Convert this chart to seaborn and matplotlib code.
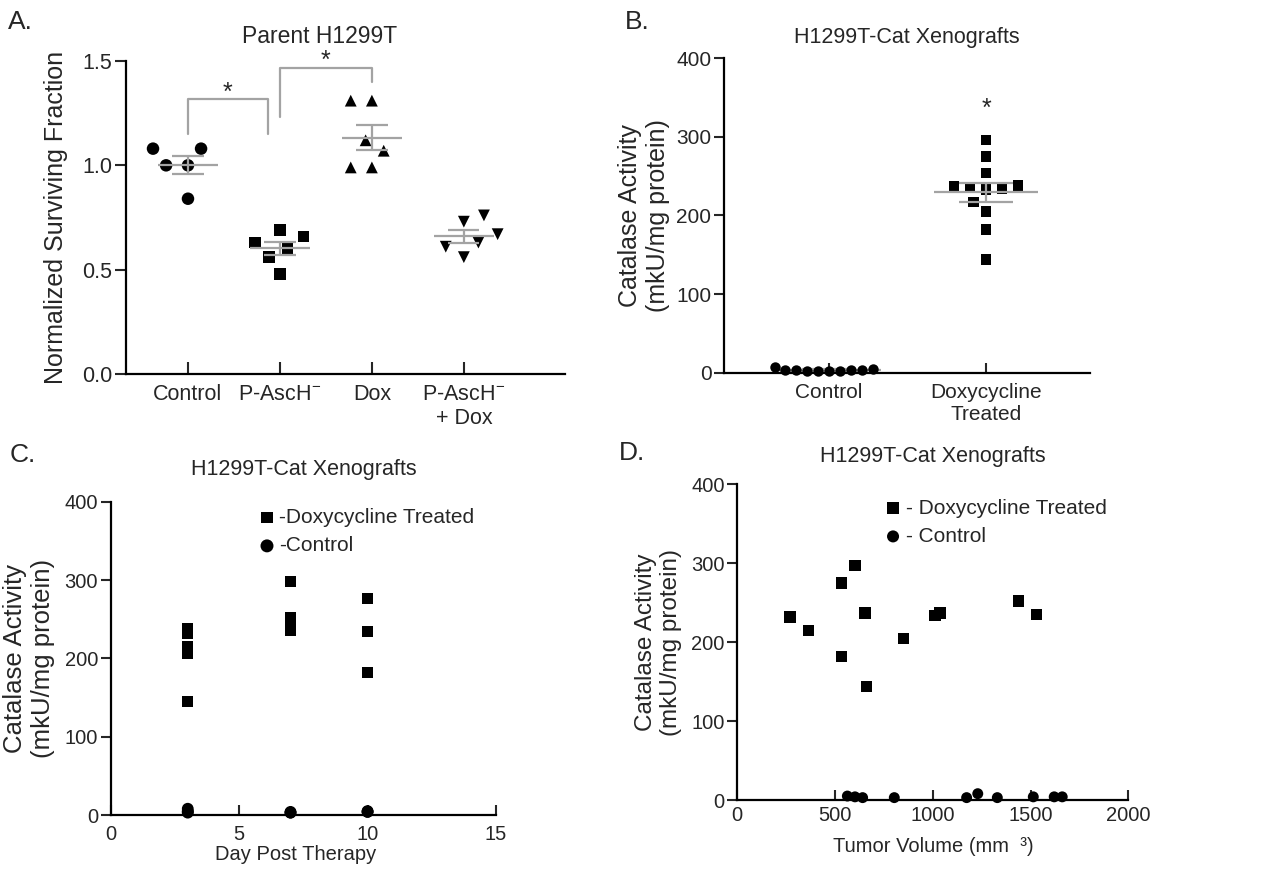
import numpy as np
import pandas as pd
import seaborn as sns
import matplotlib.pyplot as plt

# A - normalized surviving fraction, parent H1299T
groups_a = ["Control", "P-AscH$^{-}$", "Dox", "P-AscH$^{-}$\n+ Dox"]
control_a = [1.08, 1.08, 1.00, 1.00, 0.84]
pasch_a = [0.66, 0.56, 0.63, 0.48, 0.69, 0.60]
dox_a = [1.31, 1.31, 1.07, 1.12, 0.99, 0.99]
combo_a = [0.67, 0.56, 0.73, 0.63, 0.76, 0.61]
markers_a = ["o", "s", "^", "v"]
sizes_a = [9, 8.2, 8.5, 8.5]

# B - catalase activity by treatment
groups_b = ["Control", "Doxycycline\nTreated"]
control_b = [5, 4, 3, 3, 3, 8, 3, 4, 4, 4]
dox_b = [237, 234, 296, 275, 254, 233, 236, 238, 217, 205, 182, 144]

# C - catalase activity vs day post therapy
days_dox = [3, 3, 3, 3, 3, 7, 7, 7, 7, 10, 10, 10]
act_dox_c = [238, 232, 215, 206, 145, 298, 252, 240, 235, 276, 234, 182]
days_ctrl = [3, 3, 3, 3, 7, 7, 7, 10, 10, 10]
act_ctrl_c = [8, 4, 3, 5, 3, 4, 3, 5, 4, 4]

# D - catalase activity vs tumor volume
vol_dox = [269, 363, 534, 602, 534, 653, 662, 849, 1011, 1037, 1437, 1531]
act_dox_d = [232, 215, 275, 297, 182, 237, 144, 205, 234, 237, 252, 235]
vol_ctrl = [563, 602, 641, 803, 1173, 1230, 1330, 1514, 1621, 1662]
act_ctrl_d = [5, 4, 3, 3, 3, 8, 3, 4, 4, 4]

sns.set_style("ticks")
plt.rcParams["font.family"] = ["Liberation Sans", "DejaVu Sans"]
plt.rcParams["mathtext.fontset"] = "custom"
plt.rcParams["mathtext.rm"] = "Liberation Sans"
plt.rcParams["mathtext.it"] = "Liberation Sans"
plt.rcParams["mathtext.bf"] = "Liberation Sans:bold"
grey = "#a3a3a3"

W, H = 1271, 872
fig = plt.figure(figsize=(W / 100, H / 100), dpi=100)


def box(l, t, r, b):
    return [l / W, 1 - b / H, (r - l) / W, (b - t) / H]


def style_axes(ax, tick_size):
    for s in ["left", "bottom"]:
        ax.spines[s].set_linewidth(1.6)
        ax.spines[s].set_color("black")
    sns.despine(ax=ax)
    ax.tick_params(axis="x", direction="in", length=7, width=1.5, labelsize=tick_size, pad=7)
    ax.tick_params(axis="y", direction="out", length=7, width=1.5, labelsize=tick_size, pad=2)


def mean_sem(ax, df, order, half=0.33, cap=0.17):
    stats = df.groupby("group", sort=False)["value"].agg(["mean", "sem"]).reindex(order)
    for i, (m, s) in enumerate(zip(stats["mean"], stats["sem"])):
        ax.hlines(m, i - half, i + half, color=grey, lw=1.6, zorder=4)
        ax.hlines([m - s, m + s], i - cap, i + cap, color=grey, lw=1.6, zorder=4)
        ax.vlines(i, m - s, m + s, color=grey, lw=1.6, zorder=4)


# ---- A ----
axA = fig.add_axes(box(126, 61, 565, 374))
df_a = pd.DataFrame({
    "group": np.repeat(groups_a, [len(control_a), len(pasch_a), len(dox_a), len(combo_a)]),
    "value": control_a + pasch_a + dox_a + combo_a,
})
# an invisible wide edge spreads the swarm like the original without growing the markers
for g, m, sz in zip(groups_a, markers_a, sizes_a):
    sns.swarmplot(data=df_a[df_a["group"] == g], x="group", y="value", order=groups_a,
                  marker=m, size=sz, color="black", edgecolor="none", linewidth=6, ax=axA)
mean_sem(axA, df_a, groups_a)
axA.set_xlim(-0.674, 4.1)
axA.set_ylim(0, 1.5)
axA.set_yticks([0, 0.5, 1.0, 1.5])
axA.set_yticklabels(["0.0", "0.5", "1.0", "1.5"])
axA.set_xlabel("")
axA.set_ylabel("Normalized Surviving Fraction", fontsize=18)
axA.yaxis.set_label_coords(-0.132, 0.5)
axA.set_title("Parent H1299T", fontsize=16.5, x=0.44, pad=13)
style_axes(axA, 15.5)
axA.tick_params(axis="x", length=8.5)
axA.tick_params(axis="y", length=8)

# significance brackets
brackets_a = [(0, 0.87, 1.15, 1.316, 1.15), (1, 2, 1.233, 1.465, 1.40)]
for x1, x2, yl, yt, yr in brackets_a:
    axA.plot([x1, x1, x2, x2], [yl, yt, yt, yr], color=grey, lw=1.6, clip_on=False)
    axA.text((x1 + x2) / 2, yt, "*", ha="center", va="baseline", fontsize=18)

# ---- B ----
axB = fig.add_axes(box(724, 58, 1090, 373))
df_b = pd.DataFrame({
    "group": np.repeat(groups_b, [len(control_b), len(dox_b)]),
    "value": control_b + dox_b,
})
sns.swarmplot(data=df_b[df_b["group"] == groups_b[0]], x="group", y="value", order=groups_b,
              marker="o", size=7.5, color="black", ax=axB, zorder=5)
sns.swarmplot(data=df_b[df_b["group"] == groups_b[1]], x="group", y="value", order=groups_b,
              marker="s", size=7.5, color="black", edgecolor="none", linewidth=3.5, ax=axB)
mean_sem(axB, df_b, groups_b)
axB.set_xlim(-0.669, 1.662)
axB.set_ylim(0, 400)
axB.set_yticks([0, 100, 200, 300, 400])
axB.set_xlabel("")
axB.set_ylabel("Catalase Activity\n(mkU/mg protein)", fontsize=18)
axB.yaxis.set_label_coords(-0.148, 0.5)
axB.set_title("H1299T-Cat Xenografts", fontsize=15.5, pad=11)
axB.text(1, 327, "*", ha="center", va="baseline", fontsize=18)
style_axes(axB, 15)

# ---- C ----
axC = fig.add_axes(box(110.7, 501.7, 496, 815))
sns.scatterplot(x=days_dox, y=act_dox_c, marker="s", s=60, color="black", edgecolor="none",
                label="-Doxycycline Treated", ax=axC)
sns.scatterplot(x=days_ctrl, y=act_ctrl_c, marker="o", s=72, color="black", edgecolor="none",
                label="-Control", ax=axC)
axC.set_xlim(0, 15)
axC.set_ylim(0, 400)
axC.set_xticks([0, 5, 10, 15])
axC.set_yticks([0, 100, 200, 300, 400])
axC.set_xlabel("Day Post Therapy", fontsize=14.5)
axC.xaxis.set_label_coords(0.48, -0.096)
axC.set_ylabel("Catalase Activity\n(mkU/mg protein)", fontsize=18.5)
axC.yaxis.set_label_coords(-0.145, 0.5)
axC.set_title("H1299T-Cat Xenografts", fontsize=15.5, pad=19)
style_axes(axC, 14.5)
axC.legend(loc="upper left", bbox_to_anchor=(0.384, 0.98), frameon=False, fontsize=15,
           markerscale=1.1, handlelength=0.8, handletextpad=0.2, borderpad=0,
           borderaxespad=0, labelspacing=0.45)

# ---- D ----
axD = fig.add_axes(box(737.3, 484.3, 1128.3, 800))
sns.scatterplot(x=vol_dox, y=act_dox_d, marker="s", s=66, color="black", edgecolor="none",
                label="- Doxycycline Treated", ax=axD)
sns.scatterplot(x=vol_ctrl, y=act_ctrl_d, marker="o", s=62, color="black", edgecolor="none",
                label="- Control", ax=axD)
axD.set_xlim(0, 2000)
axD.set_ylim(0, 400)
axD.set_xticks([0, 500, 1000, 1500, 2000])
axD.set_yticks([0, 100, 200, 300, 400])
axD.set_xlabel("Tumor Volume (mm  ³)", fontsize=14.5)
axD.xaxis.set_label_coords(0.502, -0.117)
axD.set_ylabel("Catalase Activity\n(mkU/mg protein)", fontsize=17.5)
axD.yaxis.set_label_coords(-0.141, 0.5)
axD.set_title("H1299T-Cat Xenografts", fontsize=15.5, pad=16)
style_axes(axD, 14.5)
axD.tick_params(axis="x", pad=4)
axD.legend(loc="upper left", bbox_to_anchor=(0.377, 0.955), frameon=False, fontsize=15,
           markerscale=1.1, handlelength=0.8, handletextpad=0.2, borderpad=0,
           borderaxespad=0, labelspacing=0.45)

# let markers sit over the axis line; empty placeholder collections stay clipped
for ax in [axA, axB, axC, axD]:
    for c in ax.collections:
        if len(c.get_offsets()) > 0 and type(c).__name__ == "PathCollection":
            c.set_clip_on(False)

# panel letters
for letter, x, y in [("A.", 8, 22), ("B.", 625, 22), ("C.", 10, 455), ("D.", 619, 453)]:
    fig.text(x / W, 1 - y / H, letter, fontsize=19, ha="left", va="center")

fig.savefig("out.png", dpi=100)
